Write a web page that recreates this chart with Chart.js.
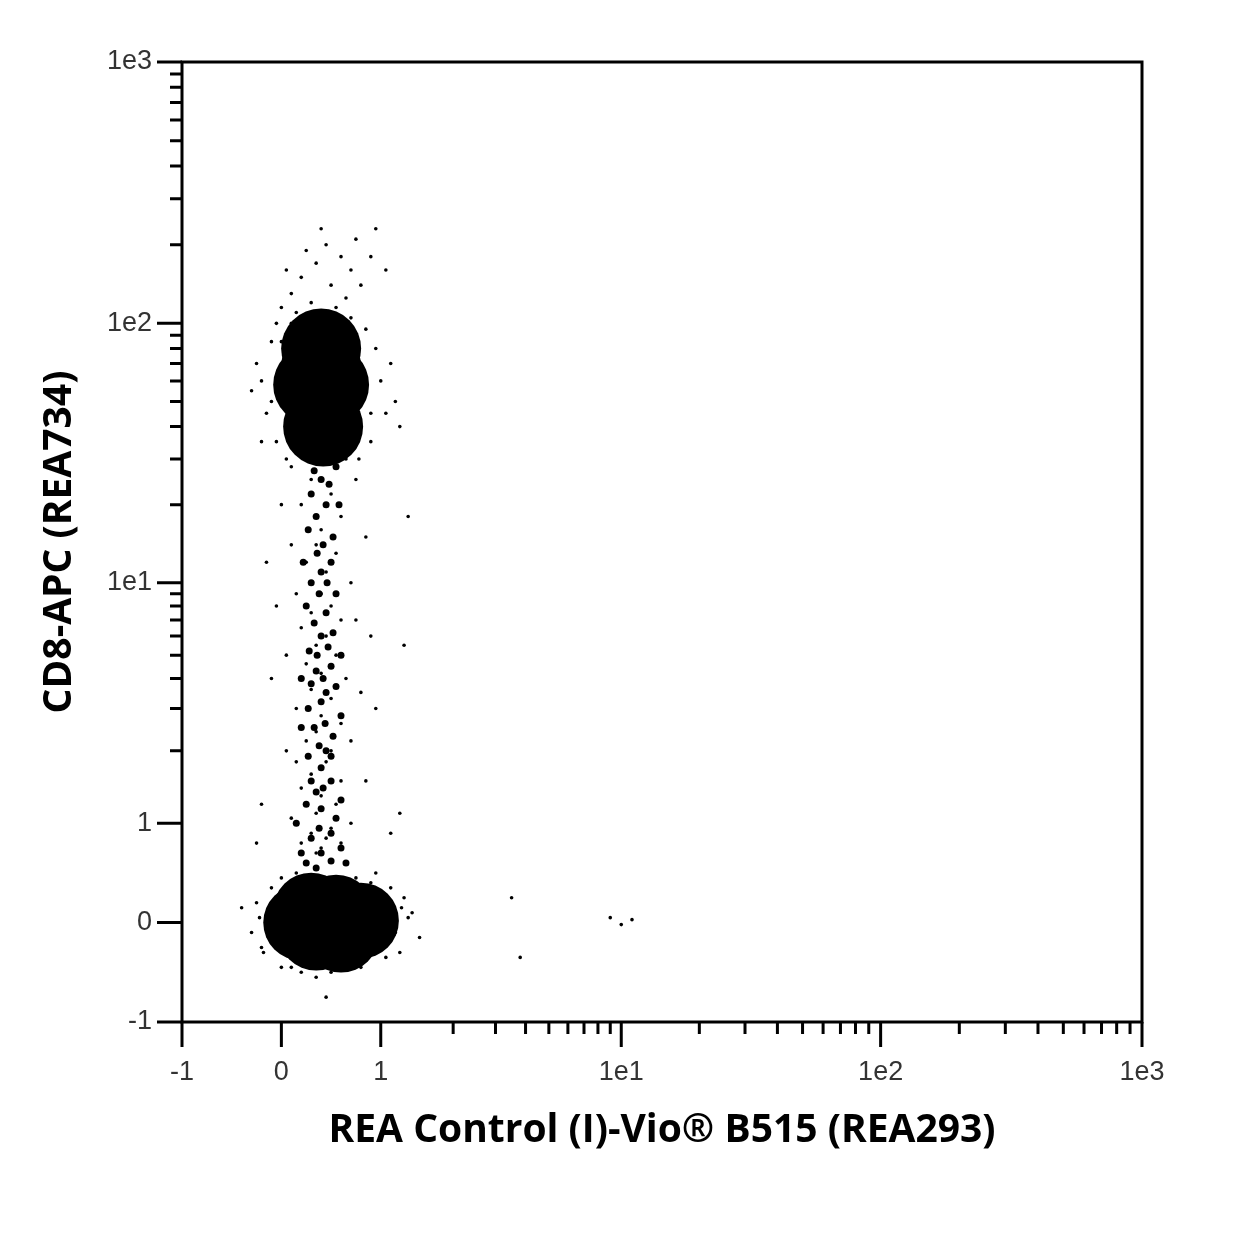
<!DOCTYPE html>
<html>
<head>
<meta charset="utf-8">
<script src="https://cdn.jsdelivr.net/npm/chart.js@4"></script>
<style>
  body { margin: 0; background: #fff; }
  #wrap { width: 1250px; height: 1250px; }
</style>
</head>
<body>
<div id="wrap"><canvas id="plot" width="1250" height="1250"></canvas></div>
<script>
// Biexponential-like display: linear between -1 and 1, decades placed at these positions
const decadeAnchors = [1, 3.42, 6.03, 8.66];
function bx(v) {
    const a = Math.abs(v);
    if (a <= 1) return v;
    const l = Math.log10(a);
    const i = Math.min(Math.floor(l), 2);
    const d = decadeAnchors[i] + (l - i) * (decadeAnchors[i + 1] - decadeAnchors[i]);
    return Math.sign(v) * d;
}

const tickValues = [-1, 0, 1, 10, 100, 1000];
const tickLabels = ['-1', '0', '1', '1e1', '1e2', '1e3'];
const minorValues = [2, 3, 4, 5, 6, 7, 8, 9, 20, 30, 40, 50, 60, 70, 80, 90, 200, 300, 400, 500, 600, 700, 800, 900];

// dense cores of the two populations
const lowerCore = [[0.2, 0], [0.4, 0], [0.6, 0], [0.8, 0.02], [0.35, -0.1], [0.55, 0.1], [0.3, 0.12], [0.6, -0.12]];
const upperCore = [[0.4, 68], [0.4, 53], [0.42, 40], [0.4, 80], [0.32, 58], [0.48, 58]];
// denser middle of the stem
const stemCore = [[0.4, 25], [0.45, 20], [0.35, 18], [0.42, 14], [0.4, 11], [0.38, 9], [0.45, 7.5], [0.4, 6],
    [0.36, 5], [0.42, 4], [0.4, 3.2], [0.44, 2.6], [0.38, 2.1], [0.4, 1.7], [0.42, 1.4], [0.4, 1.15], [0.5, 0.9],
    [0.3, 0.85], [0.55, 28], [0.3, 22], [0.5, 12], [0.3, 10], [0.5, 4.5], [0.3, 3.8], [0.5, 1.9], [0.3, 1.5], [0.4, 0.7],
    [0.6, 0.75], [0.2, 0.7], [0.33, 27], [0.48, 24], [0.27, 16], [0.52, 15], [0.36, 13], [0.46, 10], [0.25, 8],
    [0.55, 9], [0.33, 6.8], [0.52, 6.2], [0.28, 5.2], [0.47, 5.4], [0.35, 4.3], [0.55, 3.7], [0.27, 3.0], [0.45, 3.5],
    [0.33, 2.5], [0.52, 2.3], [0.27, 1.9], [0.45, 2.0], [0.35, 1.35], [0.5, 1.5], [0.25, 1.2], [0.55, 1.05],
    [0.38, 0.95], [0.25, 0.6], [0.5, 0.62], [0.65, 0.6], [0.35, 0.55], [0.58, 20], [0.22, 12], [0.6, 5], [0.2, 4],
    [0.6, 2.8], [0.2, 2.5], [0.6, 1.25], [0.15, 1.0], [0.42, 32], [0.3, 34], [0.55, 33]];
// scattered events
const sparse = [[0.2, 150], [0.35, 170], [0.5, 140], [0.6, 180], [0.1, 130], [0.45, 200], [0.7, 160], [0.3, 120],
    [0.55, 115], [0.15, 110], [0.8, 140], [0.25, 190], [0.4, 230], [0.95, 230], [1.05, 160], [0.65, 125], [0.05, 160],
    [0.75, 210], [0.9, 180], [0.0, 115], [-0.2, 60], [-0.15, 45], [-0.25, 70], [-0.1, 85], [1.0, 60], [1.05, 45],
    [0.95, 80], [1.1, 70], [-0.05, 35], [0.9, 35], [-0.3, 55], [1.15, 50], [-0.2, 35], [1.2, 40], [0.3, 25], [0.5, 22],
    [0.2, 20], [0.6, 18], [0.4, 16], [0.35, 14], [0.55, 13], [0.25, 12], [0.45, 11], [0.7, 10], [0.15, 9], [0.4, 9],
    [0.5, 8], [0.3, 7.5], [0.6, 7], [0.2, 6.5], [0.45, 6], [0.35, 5.5], [0.55, 5], [0.25, 4.6], [0.4, 4.2], [0.65, 4],
    [0.3, 3.6], [0.5, 3.3], [0.15, 3], [0.4, 2.8], [0.6, 2.6], [0.35, 2.4], [0.25, 2.2], [0.5, 2], [0.45, 1.8],
    [0.3, 1.6], [0.6, 1.5], [0.2, 1.4], [0.4, 1.3], [0.55, 1.2], [0.35, 1.1], [0.1, 1.05], [0.7, 1.0], [0.5, 0.95],
    [0.3, 0.9], [0.45, 0.85], [0.2, 0.8], [0.6, 0.8], [0.4, 0.75], [0.35, 0.7], [0.0, 20], [0.85, 15], [-0.05, 8],
    [0.9, 6], [-0.1, 4], [0.95, 3], [0.05, 2], [0.85, 1.5], [-0.2, 1.2], [1.2, 1.1], [1.25, 5.5], [1.3, 18],
    [-0.15, 12], [0.75, 25], [0.1, 28], [0.65, 30], [0.8, 3.5], [0.05, 5], [0.75, 7], [0.1, 14], [0.7, 2.2],
    [0.15, 1.8], [-0.25, 0.8], [1.1, 0.9], [-0.4, 0.15], [-0.3, -0.1], [-0.25, 0.2], [1.3, 0.05], [1.45, -0.15],
    [1.35, 0.1], [1.2, -0.3], [0.0, -0.45], [0.5, -0.5], [0.45, -0.75], [0.8, -0.45], [0.2, -0.5], [-0.2, -0.25],
    [1.1, 0.35], [0.95, 0.5], [0.0, 0.45], [1.25, 0.25], [3.5, 0.25], [3.8, -0.35], [9, 0.05], [10, -0.02], [11, 0.03],
    [-0.22, 0.05], [-0.18, -0.3], [1.15, -0.1], [1.22, 0.15], [0.1, -0.45], [0.65, -0.48], [0.35, -0.55],
    [1.05, -0.35], [0.9, 0.4], [-0.1, 0.35], [0.15, 0.5], [0.75, 0.45], [-0.1, 50], [0.0, 85], [0.85, 95],
    [0.9, 45], [-0.05, 100], [0.1, 100], [0.7, 105], [0.78, 30], [0.05, 30]];

const toPts = arr => arr.map(p => ({ x: bx(p[0]), y: bx(p[1]) }));

const axisFrame = {
    id: 'axisFrame',
    afterDraw(chart) {
        const ctx = chart.ctx;
        const area = chart.chartArea;
        ctx.save();
        ctx.strokeStyle = '#000';
        ctx.lineWidth = 3;
        ctx.strokeRect(area.left, area.top, area.right - area.left, area.bottom - area.top);
        ctx.beginPath();
        tickValues.forEach(v => {
            const px = chart.scales.x.getPixelForValue(bx(v));
            ctx.moveTo(px, area.bottom); ctx.lineTo(px, area.bottom + 25);
            const py = chart.scales.y.getPixelForValue(bx(v));
            ctx.moveTo(area.left, py); ctx.lineTo(area.left - 25, py);
        });
        minorValues.forEach(v => {
            const px = chart.scales.x.getPixelForValue(bx(v));
            ctx.moveTo(px, area.bottom); ctx.lineTo(px, area.bottom + 12);
            const py = chart.scales.y.getPixelForValue(bx(v));
            ctx.moveTo(area.left, py); ctx.lineTo(area.left - 12, py);
        });
        ctx.stroke();
        ctx.restore();
    }
};

function axis(title, pad, size) {
    return {
        type: 'linear',
        min: -1,
        max: bx(1000),
        afterBuildTicks: scale => { scale.ticks = tickValues.map(v => ({ value: bx(v) })); },
        ticks: {
            callback: (val, i) => tickLabels[i],
            color: '#333',
            font: { family: 'Liberation Sans', size: 27 },
            padding: pad,
            autoSkip: false,
            maxRotation: 0
        },
        grid: { display: false, drawTicks: false },
        border: { display: false },
        title: {
            display: true,
            text: title,
            color: '#000',
            font: { family: 'Open Sans', size: 39, weight: 'bold' }
        },
        afterFit: size
    };
}

new Chart(document.getElementById('plot'), {
    type: 'scatter',
    data: {
        datasets: [
            { data: toPts(lowerCore), pointRadius: 38, backgroundColor: '#000', borderWidth: 0 },
            { data: toPts(upperCore), pointRadius: 40, backgroundColor: '#000', borderWidth: 0 },
            { data: toPts(stemCore), pointRadius: 3.5, backgroundColor: '#000', borderWidth: 0 },
            { data: toPts(sparse), pointRadius: 1.8, backgroundColor: '#000', borderWidth: 0 }
        ]
    },
    options: {
        responsive: false,
        animation: false,
        layout: { padding: { top: 62, right: 108, bottom: 92, left: 32 } },
        plugins: { legend: { display: false }, tooltip: { enabled: false } },
        scales: {
            x: axis('REA Control (I)-Vio® B515 (REA293)', 34, s => { s.height = 136; }),
            y: axis('CD8-APC (REA734)', 30, s => { s.width = 150; })
        }
    },
    plugins: [axisFrame]
});
</script>
</body>
</html>
